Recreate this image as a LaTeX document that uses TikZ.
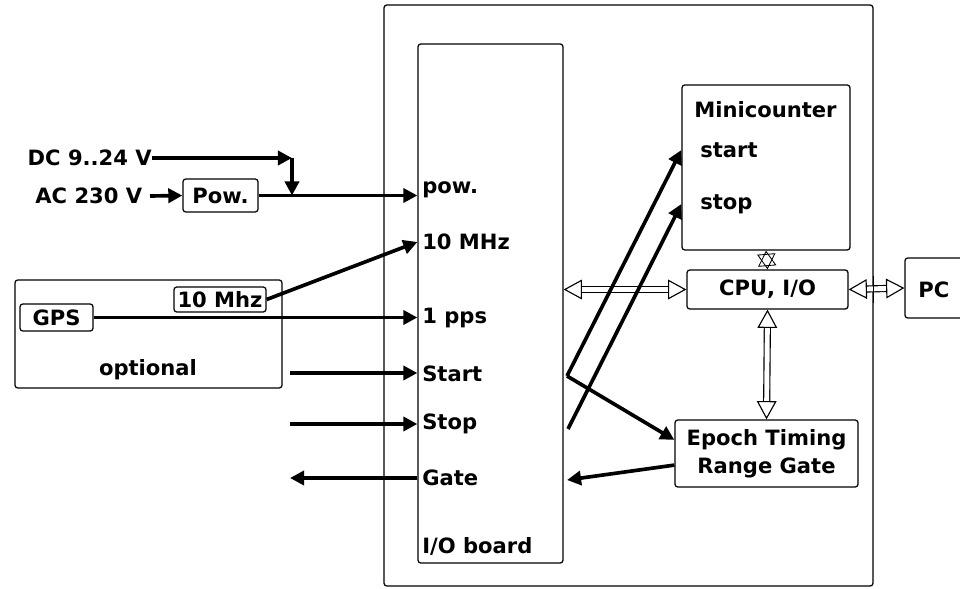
\documentclass[tikz,border=0pt]{standalone}
\usepackage{fontspec}
\setmainfont{DejaVu Sans}
\usetikzlibrary{arrows.meta}

\begin{document}
\begin{tikzpicture}[
  font=\fontsize{15}{20}\selectfont\bfseries,
  box/.style={rectangle, rounded corners=2pt, draw, line width=0.9pt, inner sep=0pt},
  lbl/.style={anchor=west, inner sep=0pt},
  arr/.style={-{Triangle[length=10pt,width=10pt]}, line width=2.6pt},
  bus/.style={white, line width=0.5pt,
              {Triangle[open,color=black,fill=white,line width=0.8pt,length=13pt,width=14pt]}-%
              {Triangle[open,color=black,fill=white,line width=0.8pt,length=13pt,width=14pt]},
              preaction={-, draw=black, double=white, double distance=3.5pt, line width=0.8pt,
                         shorten <=11pt, shorten >=11pt}},
  sbus/.style={white, line width=0.3pt,
              {Triangle[open,color=black,line width=0.6pt,length=11pt,width=13pt]}-%
              {Triangle[open,color=black,line width=0.6pt,length=11pt,width=13pt]}},
]
\useasboundingbox (0,0) rectangle (24,-14.7);

%% ===== main unit =====
\node[box, minimum width=12.225cm, minimum height=14.525cm] (unit) at (15.7125,-7.3875) {};

%% ===== I/O board =====
\node[box, minimum width=3.625cm, minimum height=12.975cm] (io) at (12.2625,-7.5875) {};
\node[lbl] (lpow)   at (10.55,-4.75)  {pow.};
\node[lbl] (l10)    at (10.55,-6.05)  {10 MHz};
\node[lbl] (lpps)   at (10.55,-7.95)  {1 pps};
\node[lbl] (lstart) at (10.55,-9.35)  {Start};
\node[lbl] (lstop)  at (10.55,-10.6)  {Stop};
\node[lbl] (lgate)  at (10.55,-11.95) {Gate};
\node[lbl] (lio)    at (10.55,-13.65) {I/O board};

%% ===== Minicounter, CPU, Epoch =====
\node[box, minimum width=4.2cm, minimum height=4.125cm] (mini) at (19.15,-4.1875) {};
\node[lbl] (lmini)  at (17.35,-2.75) {Minicounter};
\node[lbl] (mstart) at (17.5,-3.75)  {start};
\node[lbl] (mstop)  at (17.5,-5.1)   {stop};

\node[box, minimum width=4.025cm, minimum height=0.975cm] (cpu) at (19.1875,-7.2375) {CPU, I/O};
\node[box, minimum width=4.575cm, minimum height=1.675cm, align=center] (epoch)
  at (19.1625,-11.3375) {Epoch Timing\\Range Gate};

\node[box, minimum width=2.375cm, minimum height=1.5cm] (pc) at (23.8125,-7.2) {};
\node[lbl] (lpc) at (22.95,-7.25) {PC};

%% ===== power inputs =====
\node[anchor=east, inner sep=0pt] (dc) at (3.8,-3.95) {DC 9..24 V};
\node[anchor=east] (ac) at (3.68,-4.9) {AC 230 V};
\node[box, minimum width=1.875cm, minimum height=0.825cm] (pow) at (5.5125,-4.8875) {Pow.};
\coordinate (dccorner) at (7.3,-3.95);

%% ===== GPS (optional) =====
\node[box, minimum width=6.675cm, minimum height=2.7cm] (opt) at (3.7125,-8.35) {};
\node (lopt) at (3.7,-9.25) {optional};
\node[box, minimum width=1.825cm, minimum height=0.675cm] (gps) at (1.4125,-7.9375) {GPS};
\node[box, minimum width=2.3cm, minimum height=0.625cm] (tenmhz) at (5.5,-7.4875) {10 Mhz};

%% ===== free ends =====
\coordinate (sin)  at (7.25,-9.325);
\coordinate (sout) at (7.25,-10.6);
\coordinate (gout) at (7.25,-11.95);
\coordinate (fork) at (14.175,-9.4);
\coordinate (stp)  at (14.2,-10.725);
\coordinate (gin)  at (14.175,-12.0);

%% ===== buses =====
\draw[bus] (io.east |- cpu) -- (cpu.west);
\draw[bus] (cpu.east) -- (pc.west);
\draw[bus] (cpu.south) -- (epoch.north);
\draw[sbus] (mini.south) -- (cpu.north);
\draw[line width=0.9pt] ([yshift=-5pt]unit.east |- cpu.north) -- ([yshift=5pt]unit.east |- cpu.south);

%% ===== signals =====
\draw[arr] (dc.east) -- (dccorner);
\draw[arr] (dccorner) -- (dccorner |- pow.east);
\draw[arr] ([xshift=2pt]ac.east) -- (pow.west);
\draw[arr] (pow.east) -- (pow.east -| io.west);
\draw[arr] (tenmhz.east) -- (io.west |- l10);
\draw[arr] (gps.east) -- (gps.east -| io.west);
\draw[arr] (sin) -- (sin -| io.west);
\draw[arr] (sout) -- (sout -| io.west);
\draw[arr] (gout -| io.west) -- (gout);

\draw[arr] (fork) -- (mini.west |- mstart);
\draw[arr] (fork) -- ([yshift=0.34cm]epoch.west);
\draw[arr] (stp) -- (mini.west |- mstop);
\draw[arr] ([yshift=-0.29cm]epoch.west) -- (gin);

\end{tikzpicture}
\end{document}
